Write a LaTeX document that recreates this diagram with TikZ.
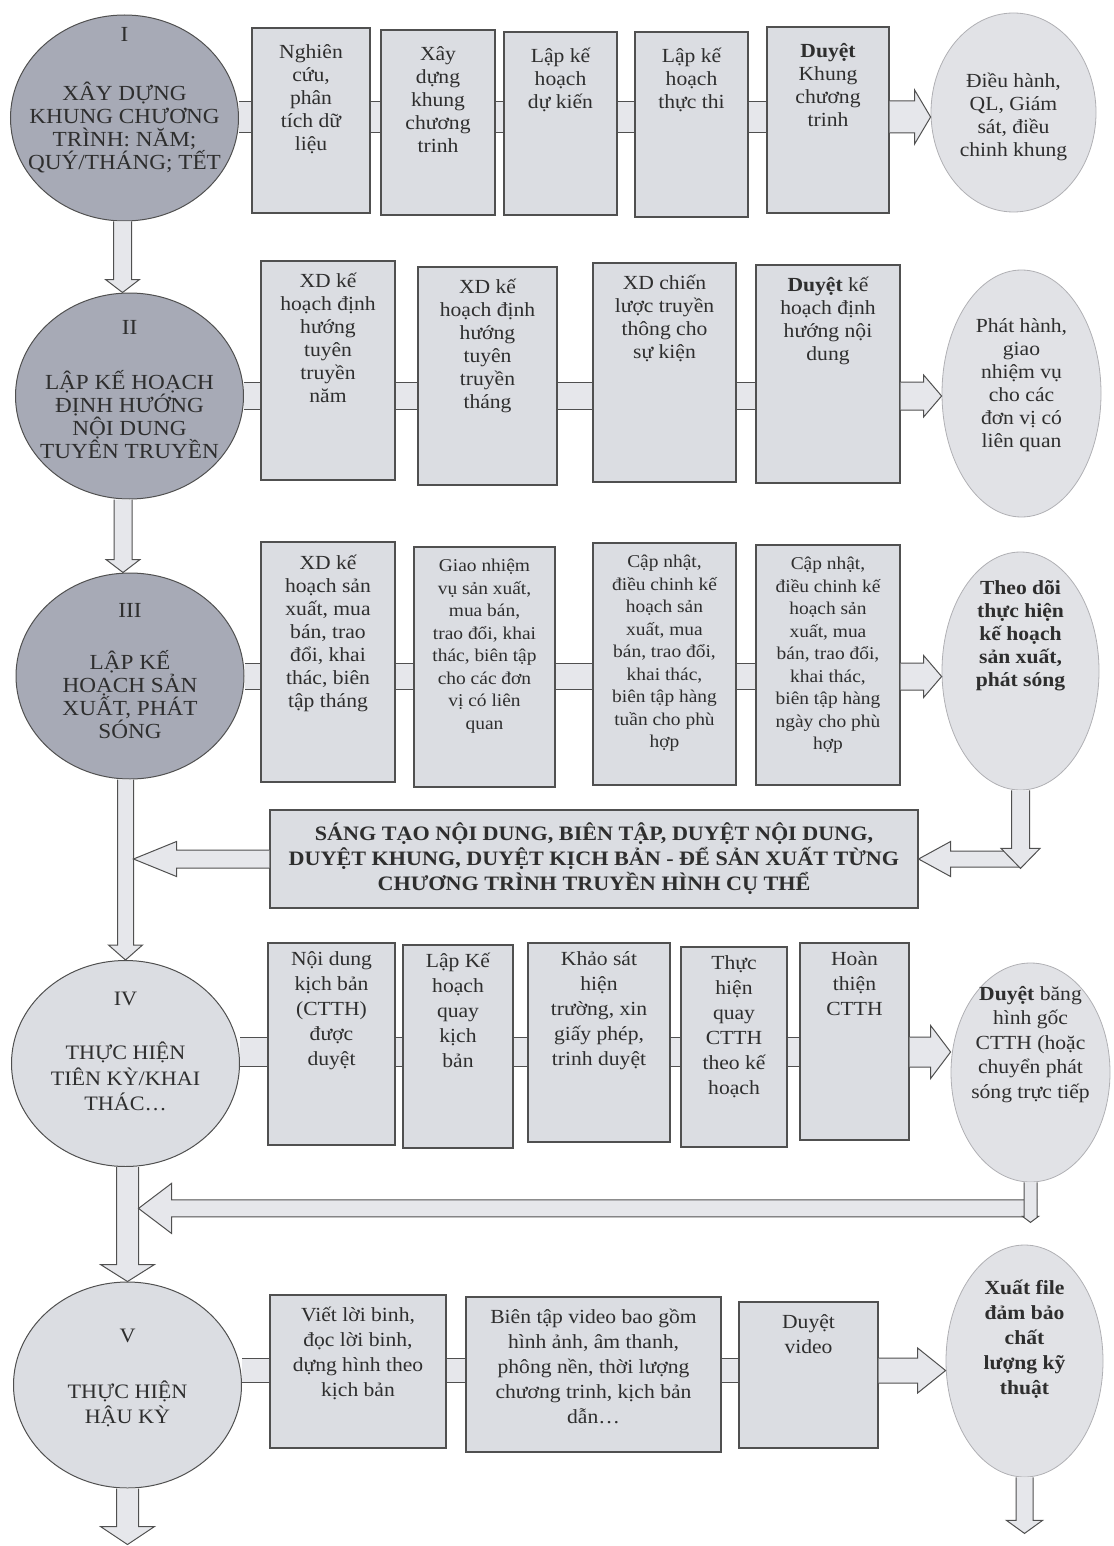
\documentclass[tikz,border=0pt]{standalone}
\usepackage{fontspec}
\setmainfont{Liberation Serif}[FakeStretch=1.08]
\usetikzlibrary{calc,shapes.geometric}

\definecolor{edgegray}{HTML}{505050}
\definecolor{phasefill}{HTML}{A7AAB6}
\definecolor{stepfill}{HTML}{DBDDE2}
\definecolor{outfill}{HTML}{E1E2E6}
\definecolor{outedge}{HTML}{B0B0B4}
\definecolor{barfill}{HTML}{E6E7EB}
\definecolor{inkgray}{HTML}{2E2E2E}

\newcommand{\stepfont}{\fontsize{20}{23}\selectfont}
\newcommand{\smallstepfont}{\fontsize{18}{22.5}\selectfont}
\newcommand{\widestepfont}{\fontsize{20}{25}\selectfont}
\newcommand{\phasefont}{\fontsize{21.5}{23}\selectfont}

% top-aligned text inside a box: [pad]{width}{height}{lines}
\newcommand{\steptext}[4][14pt]{\parbox[c][#3][t]{#2}{\centering\vspace*{#1}\strut #4}}

% block arrows: {start}{tip}{shaft half}{head half}{head length}
\newcommand{\hblock}[5]{%
  \draw[blockarrow] let \p1=(#1), \p2=(#2), \n1={ifthenelse(\x2>\x1,1,-1)} in
    (\x1,{\y2+#3}) -- ({\x2-(\n1)*#5},{\y2+#3}) -- ({\x2-(\n1)*#5},{\y2+#4}) -- (\x2,\y2)
    -- ({\x2-(\n1)*#5},{\y2-#4}) -- ({\x2-(\n1)*#5},{\y2-#3}) -- (\x1,{\y2-#3});}
\newcommand{\vblock}[5]{%
  \draw[blockarrow] let \p1=(#1), \p2=(#2), \n1={ifthenelse(\y2>\y1,1,-1)} in
    ({\x2-#3},\y1) -- ({\x2-#3},{\y2-(\n1)*#5}) -- ({\x2-#4},{\y2-(\n1)*#5}) -- (\x2,\y2)
    -- ({\x2+#4},{\y2-(\n1)*#5}) -- ({\x2+#3},{\y2-(\n1)*#5}) -- ({\x2+#3},\y1);}

\tikzset{
  phase/.style={ellipse, draw=edgegray, line width=1pt, fill=phasefill,
    minimum width=228pt, minimum height=206pt, inner sep=0pt},
  phaselight/.style={phase, fill=stepfill},
  phasetext/.style={align=center, text=inkgray, inner sep=0pt, font=\phasefont},
  stepbox/.style={draw=edgegray, line width=1.1pt, fill=stepfill, inner sep=0pt,
    text=inkgray, font=\stepfont},
  outcome/.style={ellipse, draw=outedge, line width=0.8pt, fill=outfill, inner sep=0pt},
  outtext/.style={align=center, text=inkgray, inner sep=0pt, font=\stepfont},
  midbox/.style={draw=edgegray, line width=1.1pt, fill=stepfill, align=center,
    minimum width=648pt, minimum height=98pt, text=inkgray,
    font=\bfseries\fontsize{20.5}{25}\selectfont},
  linkbar/.style={draw=edgegray, line width=1pt, double=barfill, double distance=#1},
  blockarrow/.style={draw=edgegray, line width=1pt, fill=barfill, line join=miter},
}

\begin{document}
\begin{tikzpicture}[x=1pt, y=-1pt]
\useasboundingbox (0,0) rectangle (1113,1546);

% I
\node[phase, label={[phasetext, yshift=18pt]center:{I\\[36pt]XÂY DỰNG\\KHUNG CHƯƠNG\\TRÌNH: NĂM;\\QUÝ/THÁNG; TẾT}}] (c1) at (124.5,118) {};
\node[stepbox] (b11) at (311,120.5) {\steptext{118pt}{185pt}{Nghiên\\cứu,\\phân\\tích dữ\\liệu}};
\node[stepbox] (b12) at (438,122.5) {\steptext{114pt}{185pt}{Xây\\dựng\\khung\\chương\\trinh}};
\node[stepbox] (b13) at (560.5,123.5) {\steptext{113pt}{183pt}{Lập kế\\hoạch\\dự kiến}};
\node[stepbox] (b14) at (691.5,124.5) {\steptext{113pt}{185pt}{Lập kế\\hoạch\\thực thi}};
\node[stepbox] (b15) at (828,120) {\steptext{122pt}{186pt}{\textbf{Duyệt}\\Khung\\chương\\trinh}};
\node[outcome, minimum width=165pt, minimum height=199pt,
  label={[outtext, yshift=-4pt]center:{Điều hành,\\QL, Giám\\sát, điều\\chinh khung}}] (e1) at (1013.5,112.5) {};

% II
\node[phase, label={[phasetext, yshift=6pt]center:{II\\[32pt]LẬP KẾ HOẠCH\\ĐỊNH HƯỚNG\\NỘI DUNG\\TUYÊN TRUYỀN}}] (c2) at (129.5,396) {};
\node[stepbox] (b21) at (328,370.5) {\steptext[10pt]{134pt}{219pt}{XD kế\\hoạch định\\hướng\\tuyên\\truyền\\năm}};
\node[stepbox] (b22) at (487.5,376) {\steptext[10pt]{139pt}{218pt}{XD kế\\hoạch định\\hướng\\tuyên\\truyền\\tháng}};
\node[stepbox] (b23) at (664.5,372.5) {\steptext[10pt]{143pt}{219pt}{XD chiến\\lược truyền\\thông cho\\sự kiện}};
\node[stepbox] (b24) at (828,374) {\steptext[10pt]{144pt}{218pt}{\textbf{Duyệt} kế\\hoạch định\\hướng nội\\dung}};
\node[outcome, minimum width=159pt, minimum height=247pt,
  label={[outtext, yshift=8pt]center:{Phát hành,\\giao\\nhiệm vụ\\cho các\\đơn vị có\\liên quan}}] (e2) at (1021.5,393.5) {};

% III
\node[phase, label={[phasetext, yshift=5pt]center:{III\\[29pt]LẬP KẾ\\HOẠCH SẢN\\XUẤT, PHÁT\\SÓNG}}] (c3) at (130,676) {};
\node[stepbox] (b31) at (328,662) {\steptext[11pt]{134pt}{240pt}{XD kế\\hoạch sản\\xuất, mua\\bán, trao\\đổi, khai\\thác, biên\\tập tháng}};
\node[stepbox, font=\smallstepfont] (b32) at (484.5,667) {\steptext[9pt]{141pt}{240pt}{Giao nhiệm\\vụ sản xuất,\\mua bán,\\trao đổi, khai\\thác, biên tập\\cho các đơn\\vị có liên\\quan}};
\node[stepbox, font=\smallstepfont] (b33) at (664.5,664) {\steptext[9pt]{143pt}{242pt}{Cập nhật,\\điều chinh kế\\hoạch sản\\xuất, mua\\bán, trao đổi,\\khai thác,\\biên tập hàng\\tuần cho phù\\hợp}};
\node[stepbox, font=\smallstepfont] (b34) at (828,665) {\steptext[9pt]{144pt}{240pt}{Cập nhật,\\điều chinh kế\\hoạch sản\\xuất, mua\\bán, trao đổi,\\khai thác,\\biên tập hàng\\ngày cho phù\\hợp}};
\node[outcome, minimum width=157pt, minimum height=238pt,
  label={[outtext, yshift=35pt, font=\bfseries\stepfont]center:{Theo dõi\\thực hiện\\kế hoạch\\sản xuất,\\phát sóng}}] (e3) at (1020.5,671) {};

\node[midbox] (mid) at (594,859) {SÁNG TẠO NỘI DUNG, BIÊN TẬP, DUYỆT NỘI DUNG,\\DUYỆT KHUNG, DUYỆT KỊCH BẢN - ĐỂ SẢN XUẤT TỪNG\\CHƯƠNG TRÌNH TRUYỀN HÌNH CỤ THỂ};

% IV
\node[phaselight, label={[phasetext, yshift=12pt, font=\fontsize{20.5}{25.5}\selectfont]center:{IV\\[29pt]THỰC HIỆN\\TIÊN KỲ/KHAI\\THÁC\ldots}}] (c4) at (125.5,1063.5) {};
\node[stepbox, font=\widestepfont] (b41) at (331.5,1044) {\steptext[5pt]{127pt}{202pt}{Nội dung\\kịch bản\\(CTTH)\\được\\duyệt}};
\node[stepbox, font=\widestepfont] (b42) at (458,1046.5) {\steptext[5pt]{110pt}{203pt}{Lập Kế\\hoạch\\quay\\kịch\\bản}};
\node[stepbox, font=\widestepfont] (b43) at (599,1042.5) {\steptext[5pt]{142pt}{199pt}{Khảo sát\\hiện\\trường, xin\\giấy phép,\\trinh duyệt}};
\node[stepbox, font=\widestepfont] (b44) at (734,1047) {\steptext[5pt]{106pt}{200pt}{Thực\\hiện\\quay\\CTTH\\theo kế\\hoạch}};
\node[stepbox, font=\widestepfont] (b45) at (854.5,1041.5) {\steptext[5pt]{109pt}{197pt}{Hoàn\\thiện\\CTTH}};
\node[outcome, minimum width=159pt, minimum height=219pt,
  label={[outtext, yshift=28pt, font=\fontsize{20}{24.5}\selectfont]center:{\textbf{Duyệt} băng\\hình gốc\\CTTH (hoặc\\chuyển phát\\sóng trực tiếp}}] (e4) at (1030.5,1072.5) {};

% V
\node[phaselight, label={[phasetext, yshift=7.5pt, font=\fontsize{20.5}{25}\selectfont]center:{V\\[31pt]THỰC HIỆN\\HẬU KỲ}}] (c5) at (127.5,1385) {};
\node[stepbox, font=\widestepfont] (b51) at (358,1371.5) {\steptext[9pt]{176pt}{153pt}{Viết lời binh,\\đọc lời binh,\\dựng hình theo\\kịch bản}};
\node[stepbox, font=\widestepfont] (b52) at (593.5,1374.5) {\steptext[9pt]{255pt}{155pt}{Biên tập video bao gồm\\hình ảnh, âm thanh,\\phông nền, thời lượng\\chương trinh, kịch bản\\dẫn\ldots}};
\node[stepbox, font=\widestepfont] (b53) at (808.5,1375) {\steptext[9pt]{139pt}{146pt}{Duyệt\\video}};
\node[outcome, minimum width=157pt, minimum height=232pt,
  label={[outtext, yshift=22pt, font=\bfseries\widestepfont]center:{Xuất file\\đảm bảo\\chất\\lượng kỹ\\thuật}}] (e5) at (1024.5,1361) {};

% row levels and free ends
\coordinate (row1) at (0,117);
\coordinate (row2) at (0,396);
\coordinate (row3) at (0,676.5);
\coordinate (row4) at (0,1052);
\coordinate (row5) at (0,1370.5);
\coordinate (drop3) at ($(e3.south)+(0,78)$);
\coordinate (back4) at ($(e4.south)+(0,26)$);

% links along each row
\foreach \a/\b in {c1/b11,b11/b12,b12/b13,b13/b14,b14/b15}
  \draw[linkbar=30pt] (\a.east |- row1) -- (\b.west |- row1);
\foreach \a/\b in {c2/b21,b21/b22,b22/b23,b23/b24}
  \draw[linkbar=26pt] (\a.east |- row2) -- (\b.west |- row2);
\foreach \a/\b in {c3/b31,b31/b32,b32/b33,b33/b34}
  \draw[linkbar=25pt] (\a.east |- row3) -- (\b.west |- row3);
\foreach \a/\b in {c4/b41,b41/b42,b42/b43,b43/b44,b44/b45}
  \draw[linkbar=28pt] (\a.east |- row4) -- (\b.west |- row4);
\foreach \a/\b in {c5/b51,b51/b52,b52/b53}
  \draw[linkbar=23pt] (\a.east |- row5) -- (\b.west |- row5);

% arrows into the outcomes
\hblock{b15.east |- row1}{e1.west |- row1}{16pt}{27pt}{16pt}
\hblock{b24.east |- row2}{e2.west |- row2}{14pt}{21pt}{18pt}
\hblock{b34.east |- row3}{e3.west |- row3}{13.5pt}{21pt}{18pt}
\hblock{b45.east |- row4}{e4.west |- row4}{15pt}{26.5pt}{20pt}
\hblock{b53.east |- row5}{e5.west |- row5}{12.5pt}{22.5pt}{28pt}

% phase to phase
\vblock{c1.south}{[xshift=-7pt]c2.north}{9pt}{17pt}{13pt}
\vblock{c2.south}{[xshift=-7pt]c3.north}{9pt}{17pt}{13pt}
\vblock{c3.south}{c4.north}{8pt}{17pt}{15pt}
\vblock{c4.south}{c5.north}{11pt}{27pt}{17pt}
\vblock{c5.south}{$(c5.south)+(0,56)$}{11pt}{27pt}{18pt}

% feedback into the middle box and back to phase IV
\hblock{mid.west}{$(c4.north |- mid.west)+(8,0)$}{9pt}{17.5pt}{43pt}
\hblock{drop3 |- mid.east}{mid.east}{8pt}{17.5pt}{32pt}
\vblock{e3.south}{drop3}{9pt}{19.5pt}{20pt}
\hblock{$(back4)+(6.5,0)$}{$(c5.north |- back4)+(11,0)$}{8.5pt}{25pt}{33pt}
\vblock{e4.south}{$(e4.south)+(0,40)$}{6.5pt}{8pt}{6pt}
\vblock{e5.south}{$(e5.south)+(0,56)$}{8.5pt}{18pt}{13pt}
\end{tikzpicture}
\end{document}
